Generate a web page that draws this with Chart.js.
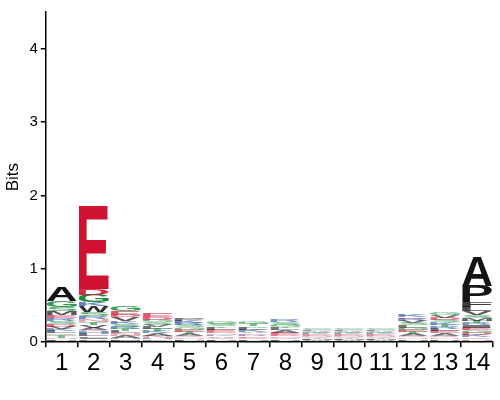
<!DOCTYPE html>
<html>
<head>
<meta charset="utf-8">
<script src="https://cdn.jsdelivr.net/npm/chart.js@4.4.1/dist/chart.umd.min.js"></script>
<style>
html,body{margin:0;padding:0;background:#fff;}
#wrap{width:500px;height:400px;}
</style>
</head>
<body>
<div id="wrap"><canvas id="c" width="500" height="400"></canvas></div>
<script>
// Sequence-logo positions
const positions = ['1','2','3','4','5','6','7','8','9','10','11','12','13','14'];
const yTicks = [0, 1, 2, 3, 4];

// Letters of each column stack, bottom -> top
const stackLetters = [
  ['H','F','N','T','Q','L','K','V','D','S','R','E','M','S','G','A'],
  ['C','P','I','F','L','H','Q','A','V','T','N','R','S','W','K','G','D','E'],
  ['M','F','H','A','N','L','T','R','S','K','V','D','E','G'],
  ['F','Y','H','N','A','K','T','L','V','S','G','D','E'],
  ['H','F','N','Q','A','T','E','G','S','R','K','P'],
  ['H','F','Q','A','K','N','D','E','L','T','S','G'],
  ['F','H','Q','E','R','D','A','K','L','S','T','G'],
  ['H','F','Q','N','D','E','A','L','T','G','S','R'],
  ['C','W','H','F','Y','Q','N','D','E','K','R','T','A','L','S','G'],
  ['C','W','H','F','Y','Q','N','D','E','K','R','T','A','L','S','G'],
  ['C','W','H','F','Y','Q','N','D','E','K','R','T','A','L','S','G'],
  ['F','H','N','Q','A','T','E','G','L','S','V','R','D','K'],
  ['F','H','N','Q','A','E','L','R','T','K','S','D','V','G'],
  ['H','N','Q','K','D','G','E','I','R','T','M','S','V','L','F','P','A']
];
// Heights (bits) of each letter, bottom -> top
const stackHeights = [
  [0.02,0.02,0.02,0.03,0.03,0.03,0.03,0.03,0.04,0.04,0.04,0.04,0.05,0.06,0.08,0.20],
  [0.02,0.02,0.02,0.02,0.03,0.03,0.03,0.03,0.04,0.04,0.04,0.04,0.05,0.08,0.05,0.10,0.08,1.13],
  [0.02,0.02,0.02,0.03,0.03,0.03,0.03,0.03,0.04,0.04,0.05,0.03,0.05,0.07],
  [0.02,0.02,0.02,0.03,0.03,0.03,0.03,0.03,0.03,0.03,0.03,0.04,0.05],
  [0.02,0.02,0.02,0.02,0.03,0.03,0.03,0.03,0.03,0.03,0.03,0.03],
  [0.02,0.02,0.02,0.02,0.02,0.02,0.02,0.03,0.03,0.02,0.03,0.03],
  [0.02,0.02,0.02,0.02,0.02,0.02,0.02,0.03,0.03,0.02,0.03,0.03],
  [0.02,0.02,0.02,0.02,0.02,0.03,0.03,0.03,0.02,0.03,0.03,0.03],
  [0.012,0.012,0.012,0.012,0.012,0.012,0.012,0.012,0.012,0.012,0.012,0.012,0.012,0.012,0.012,0.012],
  [0.012,0.012,0.012,0.012,0.012,0.012,0.012,0.012,0.012,0.012,0.012,0.012,0.012,0.012,0.012,0.012],
  [0.012,0.012,0.012,0.012,0.012,0.012,0.012,0.012,0.012,0.012,0.012,0.012,0.012,0.012,0.012,0.012],
  [0.02,0.02,0.02,0.02,0.03,0.03,0.03,0.03,0.03,0.03,0.03,0.03,0.02,0.04],
  [0.02,0.02,0.02,0.03,0.03,0.03,0.03,0.03,0.03,0.03,0.03,0.03,0.04,0.04],
  [0.02,0.02,0.03,0.03,0.03,0.03,0.04,0.03,0.03,0.03,0.04,0.04,0.05,0.06,0.07,0.22,0.40]
];

// Colour by residue chemistry
const letterColors = {
  A:'#141414',V:'#141414',L:'#141414',I:'#141414',P:'#141414',W:'#141414',F:'#141414',M:'#141414',
  G:'#1c8a3e',S:'#1c8a3e',T:'#1c8a3e',Y:'#1c8a3e',C:'#1c8a3e',
  N:'#d9707f',Q:'#d9707f',
  K:'#1f4e9c',R:'#1f4e9c',H:'#1f4e9c',
  D:'#cf1232',E:'#cf1232'
};

const nLayers = Math.max(...stackLetters.map(s => s.length));
const datasets = [];
for (let k = 0; k < nLayers; k++) {
  datasets.push({
    label: 'layer' + (k + 1),
    data: positions.map((p, i) => stackHeights[i][k] !== undefined ? stackHeights[i][k] : 0),
    letters: positions.map((p, i) => stackLetters[i][k] || ''),
    backgroundColor: 'rgba(0,0,0,0)',
    borderWidth: 0,
    barPercentage: 0.94,
    categoryPercentage: 1.0
  });
}

const letterPlugin = {
  id: 'letters',
  afterDatasetsDraw(chart) {
    const ctx = chart.ctx;
    const area = chart.chartArea;
    ctx.save();
    ctx.beginPath();
    ctx.rect(area.left, area.top - 50, area.right - area.left + 10, area.bottom - area.top + 50);
    ctx.clip();
    chart.data.datasets.forEach((ds, di) => {
      const meta = chart.getDatasetMeta(di);
      meta.data.forEach((bar, i) => {
        const letter = ds.letters[i];
        const v = ds.data[i];
        if (!letter || !v) return;
        const top = Math.min(bar.y, bar.base), bottom = Math.max(bar.y, bar.base);
        const h = bottom - top;
        const w = bar.width;
        if (h <= 0) return;
        ctx.save();
        ctx.font = 'bold 100px "Liberation Sans", Arial, sans-serif';
        ctx.textBaseline = 'alphabetic';
        ctx.textAlign = 'left';
        const m = ctx.measureText(letter);
        const lw = m.actualBoundingBoxLeft + m.actualBoundingBoxRight;
        const lh = m.actualBoundingBoxAscent + m.actualBoundingBoxDescent;
        const sx = w / lw, sy = h / lh;
        ctx.translate(bar.x - w / 2, bottom);
        ctx.scale(sx, sy);
        ctx.globalAlpha = Math.min(1, 0.4 + (h / 12));
        ctx.fillStyle = letterColors[letter] || '#888';
        ctx.fillText(letter, m.actualBoundingBoxLeft, -m.actualBoundingBoxDescent);
        ctx.restore();
      });
    });
    ctx.restore();
  }
};

new Chart(document.getElementById('c'), {
  type: 'bar',
  data: { labels: positions, datasets },
  plugins: [letterPlugin],
  options: {
    responsive: false,
    animation: false,
    devicePixelRatio: 1,
    layout: { padding: { left: 3, right: 7, top: 5, bottom: 20 } },
    plugins: { legend: { display: false }, tooltip: { enabled: false } },
    scales: {
      x: {
        stacked: true,
        border: { display: true, color: '#000', width: 1.5 },
        grid: { display: true, drawOnChartArea: false, drawTicks: true, tickLength: 5, color: '#000', lineWidth: 1.5 },
        ticks: { color: '#000', font: { family: '"Liberation Sans", Arial, sans-serif', size: 24 }, padding: 2, maxRotation: 0, autoSkip: false }
      },
      y: {
        stacked: true,
        min: 0,
        max: 4.5,
        afterBuildTicks(scale) {
          scale.ticks = yTicks.map(v => ({ value: v }));
        },
        border: { display: true, color: '#000', width: 1.5 },
        grid: { display: true, drawOnChartArea: false, drawTicks: true, tickLength: 5, color: '#000', lineWidth: 1.5 },
        ticks: { color: '#000', font: { family: '"Liberation Sans", Arial, sans-serif', size: 15 }, padding: 3 },
        title: { display: true, text: 'Bits', color: '#000', font: { family: '"Liberation Sans", Arial, sans-serif', size: 17 }, padding: { top: 0, bottom: 3 } }
      }
    }
  }
});
</script>
</body>
</html>
